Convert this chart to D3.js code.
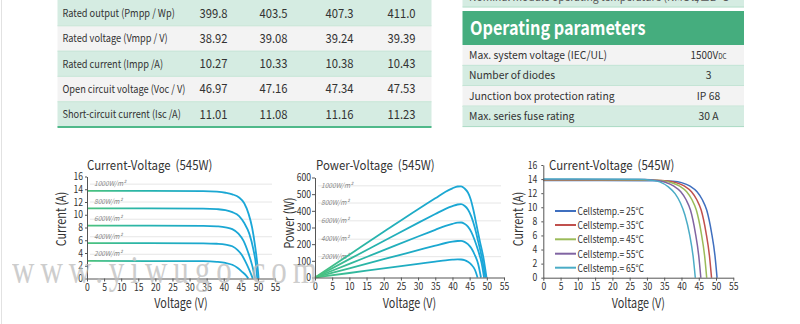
<!DOCTYPE html>
<html><head><meta charset="utf-8">
<script src="https://cdn.jsdelivr.net/npm/d3@7"></script>
<style>html,body{margin:0;padding:0;background:#fff;overflow:hidden}svg{display:block}text{white-space:pre}</style>
</head><body>
<svg id="c" width="800" height="324"></svg>
<script>
// ---------------- DATA ----------------
const specLabels = ["Rated output (Pmpp / Wp)", "Rated voltage (Vmpp / V)", "Rated current (Impp /A)", "Open circuit voltage (Voc / V)", "Short-circuit current (Isc /A)"];
const specCol1 = ["399.8", "38.92", "10.27", "46.97", "11.01"];
const specCol2 = ["403.5", "39.08", "10.33", "47.16", "11.08"];
const specCol3 = ["407.3", "39.24", "10.38", "47.34", "11.16"];
const specCol4 = ["411.0", "39.39", "10.43", "47.53", "11.23"];

const opTitle = "Operating parameters";
const opLabels = ["Max. system voltage (IEC/UL)", "Number of diodes", "Junction box protection rating", "Max. series fuse rating"];
const opValues = ["1500V", "3", "IP 68", "30 A"];
const prevRowLabel = "Nominal module operating temperature (NMOT)";
const prevRowValue = "45±2 °C";

const voltageTicks = [0, 5, 10, 15, 20, 25, 30, 35, 40, 45, 50, 55];
const currentTicks = [0, 2, 4, 6, 8, 10, 12, 14, 16];
const powerTicks = [0, 100, 200, 300, 400, 500, 600];

const irradianceLabels = ["1000W/m²", "800W/m²", "600W/m²", "400W/m²", "200W/m²"];
const ivGridValues = [14.8, 12.0, 9.3, 6.55, 3.8];
const pvGridValues = [550, 447, 340, 230, 125];

// I-V curves by irradiance [V, A]
const ivG1000 = [[0,13.75],[34,13.72],[38,13.62],[40.5,13.45],[42.5,13.2],[44.5,12.7],[46,11.8],[47.3,10.1],[48.3,8.0],[49.2,5.0],[49.8,2.4],[50.2,0]];
const ivG800  = [[0,11.0],[34,10.97],[38,10.88],[40.5,10.72],[42.5,10.4],[44.5,9.8],[46,8.7],[47.5,7.0],[48.7,4.5],[49.4,2.3],[49.8,0]];
const ivG600  = [[0,8.3],[34,8.27],[38,8.18],[40.5,8.03],[42.5,7.75],[44.3,7.05],[45.8,5.9],[47.2,4.0],[48.3,2.1],[49.2,0]];
const ivG400  = [[0,5.55],[34,5.52],[38,5.45],[40.5,5.32],[42.5,5.05],[44,4.5],[45.3,3.7],[46.5,2.5],[47.6,1.2],[48.5,0]];
const ivG200  = [[0,2.75],[34,2.72],[38,2.62],[40.5,2.45],[42.5,2.15],[44,1.7],[45.5,1.0],[46.5,0.5],[47.2,0]];

// P-V curves by irradiance [V, W]
const pvG1000 = [[0,0],[10,137],[20,274],[30,410],[35,475],[38,515],[40,535],[41.5,546],[42.5,547],[43.5,535],[44.5,510],[45.3,470],[46.1,405],[47,315],[48,215],[49,120],[49.9,0]];
const pvG800  = [[0,0],[10,110],[20,219],[30,328],[35,381],[38,412],[40,428],[41.5,438],[42.5,440],[43.5,430],[44.5,408],[45.5,365],[46.5,300],[47.5,215],[48.5,125],[49.6,0]];
const pvG600  = [[0,0],[10,82],[20,164],[30,246],[35,286],[38,310],[40,322],[41.5,329],[42.5,330],[43.5,322],[44.5,305],[45.5,272],[46.5,222],[47.5,160],[48.5,85],[49.2,0]];
const pvG400  = [[0,0],[10,55],[20,110],[30,164],[35,191],[38,207],[40,215],[41.5,219],[42.5,220],[43.5,214],[44.5,200],[45.5,175],[46.5,135],[47.5,80],[48.3,0]];
const pvG200  = [[0,0],[10,27],[20,55],[30,82],[35,95],[38,103],[40,107],[41.5,109],[42.5,108],[43.5,104],[44.5,94],[45.5,77],[46.5,48],[47.3,0]];

// I-V curves by cell temperature [V, A]
const tempLabels = ["Cellstemp.= 25°C", "Cellstemp.= 35°C", "Cellstemp.= 45°C", "Cellstemp.= 55°C", "Cellstemp.= 65°C"];
const tempColors = ["#3f6fbf", "#c0504d", "#9bbb59", "#8064a2", "#4bacc6"];
const ivT25 = [[0,13.8],[34,13.78],[37.5,13.7],[40,13.5],[42.5,13.0],[44.5,12.2],[46,11.1],[47.3,9.6],[48.7,6.4],[49.7,3.1],[50.3,0]];
const ivT35 = [[0,13.85],[32.5,13.83],[36,13.72],[38.4,13.5],[40.9,13.0],[42.9,12.2],[44.4,11.1],[45.7,9.6],[47.1,6.4],[48.1,3.1],[48.7,0]];
const ivT45 = [[0,13.9],[31,13.88],[34.5,13.75],[37,13.5],[39.5,13.0],[41.5,12.2],[43,11.1],[44.3,9.6],[45.7,6.4],[46.7,3.1],[47.3,0]];
const ivT55 = [[0,13.95],[29.3,13.93],[32.8,13.8],[35.3,13.55],[37.8,13.0],[39.8,12.2],[41.3,11.1],[42.6,9.6],[44,6.4],[45,3.1],[45.6,0]];
const ivT65 = [[0,14.0],[27.7,13.98],[31.2,13.85],[33.7,13.6],[36.2,12.9],[38.2,11.9],[39.7,10.6],[41,8.9],[42.4,6.0],[43.4,2.9],[44,0]];

// ---------------- DRAW ----------------
const FONT = "'Noto Sans CJK SC','Noto Sans',sans-serif";
const svg = d3.select("#c").attr("font-family", FONT);

function T(parent, x, y, str, o = {}) {
  const sx = o.sx ?? 1;
  return parent.append("text")
    .attr("transform", `translate(${x},${y})` + (o.rot ? ` rotate(${o.rot})` : "") + ` scale(${sx},1)`)
    .attr("dy", "0.35em")
    .attr("font-size", o.size || 11)
    .attr("font-weight", o.weight || 400)
    .attr("font-style", o.style || "normal")
    .attr("fill", o.fill || "#333")
    .attr("text-anchor", o.anchor || "start")
    .text(str);
}

// faint page edge
svg.append("line").attr("x1", 1.5).attr("x2", 1.5).attr("y1", 0).attr("y2", 324).attr("stroke", "#e2e2e2");

// ---- Left spec table ----
const GREEN_ROW = "#d5ece2", GRAY_ROW = "#f3f3f3", SEP = "#bfe2d1";
const lt = svg.append("g");
const ltX0 = 57.5, ltX1 = 431.5, ltTop = 0.5, ltRowH = 25.3;
const specCols = [specCol1, specCol2, specCol3, specCol4];
const colX = [199.5, 259.5, 325.5, 387.5];
specLabels.forEach((lab, i) => {
  const y = ltTop + i * ltRowH;
  lt.append("rect").attr("x", ltX0).attr("y", y - (i === 0 ? 1 : 0)).attr("width", ltX1 - ltX0).attr("height", ltRowH + (i === 0 ? 1 : 0))
    .attr("fill", i % 2 === 0 ? GREEN_ROW : GRAY_ROW);
  if (i > 0) lt.append("line").attr("x1", ltX0).attr("x2", ltX1).attr("y1", y).attr("y2", y).attr("stroke", SEP).attr("stroke-width", 0.8);
  T(lt, 62.5, y + ltRowH / 2, lab, { size: 11, fill: "#333", sx: 0.84 });
  specCols.forEach((col, j) => T(lt, colX[j], y + ltRowH / 2, col[i], { size: 12.5, fill: "#333", sx: 0.9 }));
});
lt.append("rect").attr("x", ltX0).attr("y", ltTop + 5 * ltRowH - 1).attr("width", ltX1 - ltX0).attr("height", 2).attr("fill", "#4fb98a");

// ---- Right operating table ----
const rt = svg.append("g");
const rtX0 = 462.5, rtX1 = 744;
rt.append("rect").attr("x", rtX0).attr("y", -2).attr("width", rtX1 - rtX0).attr("height", 8.7).attr("fill", GREEN_ROW);
rt.append("line").attr("x1", rtX0).attr("x2", rtX1).attr("y1", 7).attr("y2", 7).attr("stroke", "#a9dac3");
T(rt, 469, -2.5, prevRowLabel, { size: 11, fill: "#555", sx: 0.94 });
T(rt, 708.5, -2.5, prevRowValue, { size: 11, fill: "#555", anchor: "middle", sx: 0.94 });
rt.append("rect").attr("x", rtX0).attr("y", 11).attr("width", rtX1 - rtX0).attr("height", 34).attr("fill", "#45ad7e");
T(rt, 470, 28.5, opTitle, { size: 19, weight: 700, fill: "#fff", sx: 0.855 });
const rtTop = 45, rtRowH = 20.4;
opLabels.forEach((lab, i) => {
  const y = rtTop + i * rtRowH;
  rt.append("rect").attr("x", rtX0).attr("y", y).attr("width", rtX1 - rtX0).attr("height", rtRowH).attr("fill", i % 2 === 0 ? GRAY_ROW : GREEN_ROW);
  rt.append("line").attr("x1", rtX0).attr("x2", rtX1).attr("y1", y + rtRowH).attr("y2", y + rtRowH).attr("stroke", "#a9dac3").attr("stroke-width", 1);
  T(rt, 469, y + rtRowH / 2, lab, { size: 11, fill: "#333", sx: 0.94 });
  if (i === 0) {
    const t = T(rt, 708.5, y + rtRowH / 2, "", { size: 11, fill: "#333", anchor: "middle", sx: 0.9 });
    t.append("tspan").text(opValues[i]);
    t.append("tspan").attr("font-size", 7).text("DC");
  } else {
    T(rt, 708.5, y + rtRowH / 2, opValues[i], { size: 11, fill: "#333", anchor: "middle", sx: 0.94 });
  }
});

// ---- gradient ----
const defs = svg.append("defs");
function grad(id, x1, x2) {
  const g = defs.append("linearGradient").attr("id", id).attr("gradientUnits", "userSpaceOnUse")
    .attr("x1", x1).attr("x2", x2).attr("y1", 0).attr("y2", 0);
  [[0, "#4cc27c"], [0.3, "#27b4ac"], [0.6, "#1ba8cf"], [1, "#1aa6dc"]].forEach(([o, c]) => g.append("stop").attr("offset", o).attr("stop-color", c));
}

const TSX = 0.86;
function styleAxis(g, left) {
  g.select(".domain").attr("stroke", "#555").attr("stroke-width", 1);
  g.selectAll(".tick line").attr("stroke", "#555");
  g.selectAll(".tick text").attr("fill", "#333").attr("font-size", 10).attr("font-family", FONT)
    .each(function () {
      const t = d3.select(this);
      const x0 = +t.attr("x") || 0;
      t.attr("x", x0 / TSX).attr("transform", `scale(${TSX},1)`);
    });
}

function chart(opts) {
  const g = svg.append("g");
  const x = d3.scaleLinear().domain([0, 55]).range(opts.xr);
  const y = d3.scaleLinear().domain(opts.yd).range(opts.yr);
  if (opts.grid) {
    opts.grid.forEach((v, i) => {
      g.append("line").attr("x1", x(0) + 3).attr("x2", x(55) - 3).attr("y1", y(v)).attr("y2", y(v)).attr("stroke", "#e6e6e6").attr("stroke-width", 1);
      T(g, x(0) + opts.lblDx, y(v) - 0.5, irradianceLabels[i], { size: 7, fill: "#8a8a8a", style: "italic", sx: 0.95 });
    });
  }
  const line = d3.line().x(d => x(d[0])).y(d => y(d[1])).curve(d3.curveMonotoneX);
  opts.series.forEach((s, i) => {
    g.append("path").attr("d", line(s)).attr("fill", "none")
      .attr("stroke", opts.colors ? opts.colors[i] : `url(#${opts.gid})`)
      .attr("stroke-width", opts.sw).attr("stroke-linejoin", "round");
  });
  const xa = g.append("g").attr("transform", `translate(0,${opts.yr[0]})`)
    .call(d3.axisBottom(x).tickValues(voltageTicks).tickSize(3).tickSizeOuter(0).tickPadding(2));
  styleAxis(xa);
  const ya = g.append("g").attr("transform", `translate(${opts.xr[0]},0)`)
    .call(d3.axisLeft(y).tickValues(opts.yt).tickSize(opts.yTick).tickSizeOuter(0).tickPadding(opts.yPad));
  styleAxis(ya, true);
  T(g, opts.titleX, 165, opts.title, { size: 13, fill: "#333", sx: 0.88 });
  T(g, (opts.xr[0] + opts.xr[1]) / 2, 303, "Voltage (V)", { size: 13.5, fill: "#333", anchor: "middle", sx: 0.8 });
  T(g, opts.yTitleX, opts.yTitleY, opts.yTitle, { size: 13.5, fill: "#333", anchor: "middle", rot: -90, sx: 0.8 });
  return { g, x, y };
}

grad("g1", 87, 275);
grad("g2", 315, 504);

chart({ xr: [87, 275], yd: [0, 16], yr: [278.5, 176.5], yt: currentTicks, yTick: 2, yPad: 2,
  grid: ivGridValues, lblDx: 7, gid: "g1", sw: 1.8,
  series: [ivG1000, ivG800, ivG600, ivG400, ivG200],
  titleX: 87, title: "Current-Voltage  (545W)", yTitle: "Current (A)", yTitleX: 61, yTitleY: 219 });

chart({ xr: [315, 504], yd: [0, 600], yr: [277.5, 177.5], yt: powerTicks, yTick: 3, yPad: 1,
  grid: pvGridValues, lblDx: 6, gid: "g2", sw: 1.8,
  series: [pvG1000, pvG800, pvG600, pvG400, pvG200],
  titleX: 316, title: "Power-Voltage  (545W)", yTitle: "Power (W)", yTitleX: 289, yTitleY: 223 });

const c3 = chart({ xr: [543.3, 733.3], yd: [0, 16], yr: [277.7, 165], yt: currentTicks, yTick: 2, yPad: 4,
  colors: tempColors, sw: 1.5,
  series: [ivT25, ivT35, ivT45, ivT55, ivT65],
  titleX: 549, title: "Current-Voltage  (545W)", yTitle: "Current (A)", yTitleX: 518, yTitleY: 219 });

// legend chart 3
const legY = [211, 225, 239.3, 253.7, 267.7];
tempLabels.forEach((lab, i) => {
  c3.g.append("line").attr("x1", 555).attr("x2", 576).attr("y1", legY[i]).attr("y2", legY[i]).attr("stroke", tempColors[i]).attr("stroke-width", 2);
  T(c3.g, 577.5, legY[i] + 0.5, lab, { size: 10, fill: "#333", sx: 0.85 });
});

// watermark
svg.append("text").attr("transform", "translate(12,283) scale(1,1.28)")
  .attr("font-family", "'Liberation Serif','DejaVu Serif',serif").attr("font-size", 31)
  .attr("letter-spacing", 6).attr("fill", "#bdbdbd").attr("opacity", 0.75)
  .style("white-space", "normal")
  .text("www.yiwugo.com");
</script>
</body></html>
